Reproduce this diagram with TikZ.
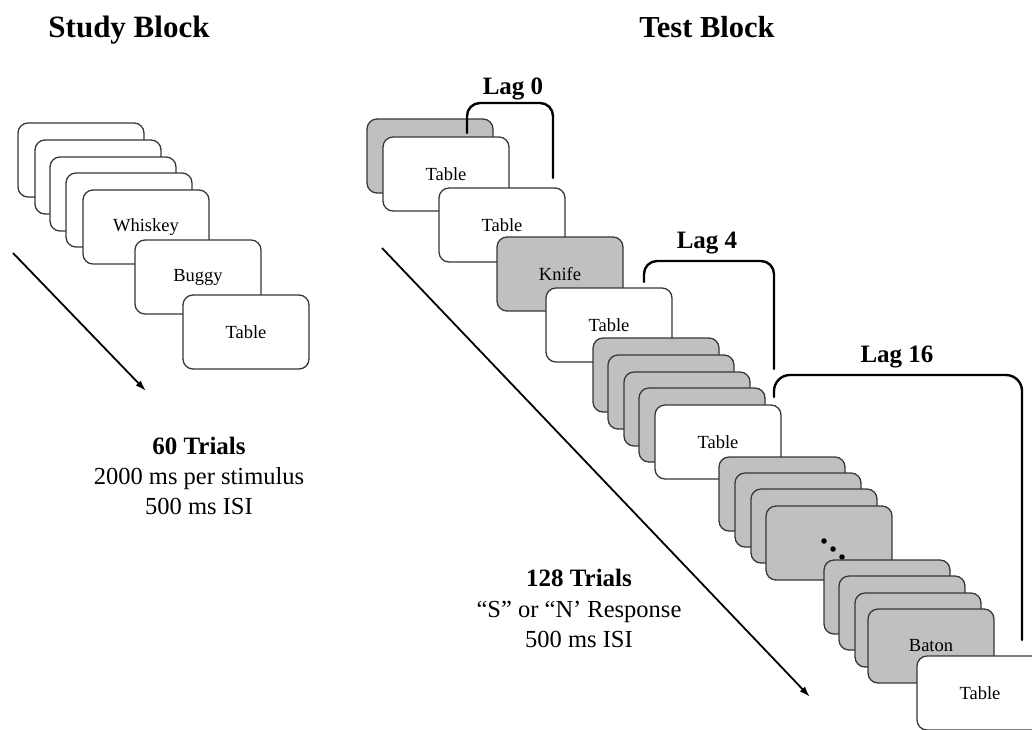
\documentclass[tikz,border=0pt]{standalone}
\usepackage{fontspec}
\setmainfont{Liberation Serif}
\usetikzlibrary{arrows.meta}
\definecolor{cardgray}{RGB}{192,192,192}
\definecolor{cardline}{RGB}{55,55,55}
\tikzset{
  card/.style={rectangle, rounded corners=10pt, minimum width=126pt, minimum height=74pt,
    inner sep=0pt, draw=cardline, line width=1.3pt, fill=white,
    font=\fontsize{18.5}{20}\selectfont},
  graycard/.style={card, fill=cardgray},
  heading/.style={anchor=base, inner sep=0pt, font=\fontsize{31}{34}\selectfont\bfseries},
  lagtext/.style={anchor=base, inner sep=0pt, font=\fontsize{25}{28}\selectfont\bfseries},
  infobold/.style={anchor=base, inner sep=0pt, font=\fontsize{25}{28}\selectfont\bfseries},
  info/.style={anchor=base, inner sep=0pt, font=\fontsize{24.5}{28}\selectfont},
  bracket/.style={line width=2.4pt, rounded corners=13pt, line cap=round},
  timeline/.style={line width=1.8pt, -{Latex[length=11pt,width=7pt]}},
  dotmark/.style={circle, fill=black, inner sep=0pt, minimum size=5.5pt}
}
\begin{document}
\begin{tikzpicture}[x=1pt, y=-1pt]
\useasboundingbox (0,0) rectangle (1032,729);
\clip (0,0) rectangle (1032,729);

% headings
\node[heading] (studyhead) at (129,37) {Study Block};
\node[heading, font=\fontsize{30.5}{34}\selectfont\bfseries] (testhead) at (707,37) {Test Block};

% ---------------- study block ----------------
\node[card] (s1) at (81,160) {};
\node[card] (s2) at (98,177) {};
\node[card] (s3) at (113,194) {};
\node[card] (s4) at (129,210) {};
\node[card] (s5) at (146,227) {Whiskey};
\node[card] (s6) at (198,277) {Buggy};
\node[card] (s7) at (246,332) {Table};

\coordinate (sstart) at (13,253);
\coordinate (send) at (146,391);
\draw[timeline] (sstart) -- (send);

\node[infobold] (strials) at (199,454) {60 Trials};
\node[info] (sdur) at (199,484) {2000 ms per stimulus};
\node[info] (sisi) at (199,514) {500 ms ISI};

% ---------------- test block ----------------
\node[graycard] (t1) at (430,156) {};
\node[card] (t2) at (446,174) {Table};
\node[card] (t3) at (502,225) {Table};
\node[graycard] (t4) at (560,274) {Knife};
\node[card] (t5) at (609,325) {Table};
% fillers before the lag 4 repeat
\node[graycard] (a1) at (656,375) {};
\node[graycard] (a2) at (671,392) {};
\node[graycard] (a3) at (687,409) {};
\node[graycard] (a4) at (702,425) {};
\node[card] (t6) at (718,442) {Table};
% fillers before the lag 16 repeat
\node[graycard] (b1) at (782,494) {};
\node[graycard] (b2) at (798,510) {};
\node[graycard] (b3) at (814,526) {};
\node[graycard] (b4) at (829,543) {};
\node[dotmark] (d1) at (824,541) {};
\node[dotmark] (d2) at (833,549) {};
\node[dotmark] (d3) at (842,557) {};
\node[graycard] (c1) at (887,597) {};
\node[graycard] (c2) at (902,613) {};
\node[graycard] (c3) at (918,630) {};
\node[graycard] (c4) at (931,646) {Baton};
\node[card] (t7) at (980,693) {Table};

\coordinate (tstart) at (382,248);
\coordinate (tend) at (810,697);
\draw[timeline] (tstart) -- (tend);

\node[infobold] (ttrials) at (579,586) {128 Trials};
\node[info] (tresp) at (579,617) {“S” or “N’ Response};
\node[info] (tisi) at (579,647) {500 ms ISI};

% lag brackets
\coordinate (l0a) at (467,133);
\coordinate (l0tl) at (467,103);
\coordinate (l0tr) at (553,103);
\coordinate (l0b) at (553,178);
\draw[bracket] (l0a) -- (l0tl) -- (l0tr) -- (l0b);
\node[lagtext] (lag0) at (513,94) {Lag 0};

\coordinate (l4a) at (644,282);
\coordinate (l4tl) at (644,261);
\coordinate (l4tr) at (774,261);
\coordinate (l4b) at (774,369);
\draw[bracket] (l4a) -- (l4tl) -- (l4tr) -- (l4b);
\node[lagtext] (lag4) at (707,248) {Lag 4};

\coordinate (l16a) at (774,397);
\coordinate (l16tl) at (774,375);
\coordinate (l16tr) at (1022,375);
\coordinate (l16b) at (1022,640);
\draw[bracket, rounded corners=16pt] (l16a) -- (l16tl) -- (l16tr) -- (l16b);
\node[lagtext] (lag16) at (897,362) {Lag 16};
\end{tikzpicture}
\end{document}
